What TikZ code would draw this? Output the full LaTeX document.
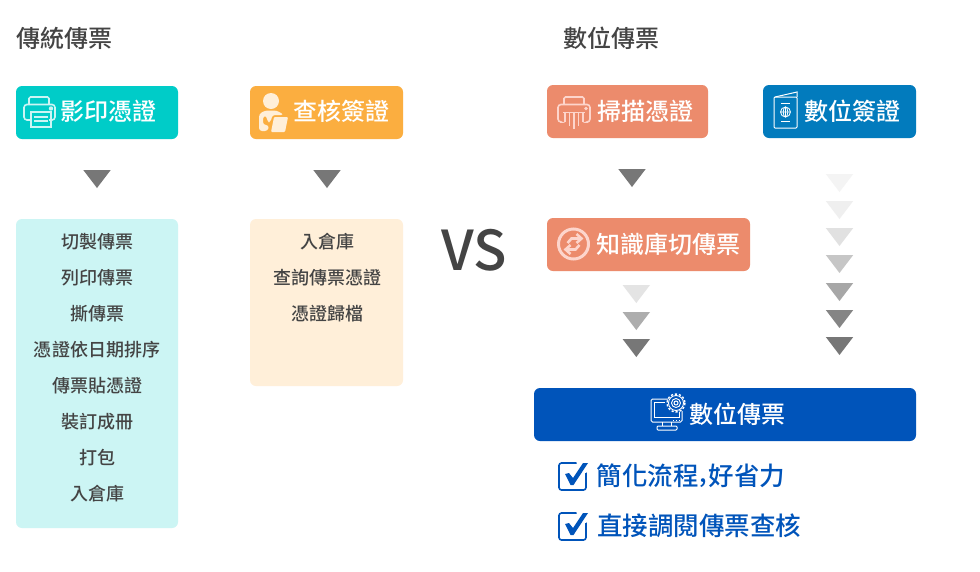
\documentclass[tikz,border=0pt]{standalone}
\usepackage{fontspec}
\setmainfont{Noto Sans CJK TC}
\newfontfamily\medf{Noto Sans CJK TC Medium}
\definecolor{teal1}{HTML}{00CCC8}
\definecolor{teal2}{HTML}{CCF5F4}
\definecolor{org1}{HTML}{FBAE40}
\definecolor{org2}{HTML}{FFEFD9}
\definecolor{sal1}{HTML}{EC8B6C}
\definecolor{sal2}{HTML}{FDD5CC}
\definecolor{blu1}{HTML}{027BBD}
\definecolor{blu2}{HTML}{0054BA}
\definecolor{ink}{HTML}{444444}
\definecolor{tri}{HTML}{777777}
\tikzset{
  x=1pt,y=-1pt,
  box/.style={rounded corners=6pt,anchor=north west,inner sep=0pt,outer sep=0pt},
  title/.style={font=\medf\fontsize{24}{24}\selectfont,text=ink,inner sep=0pt},
  label/.style={font=\medf\fontsize{24}{24}\selectfont,text=white,inner sep=0pt},
  item/.style={font=\medf\fontsize{18}{18}\selectfont,text=ink,inner sep=0pt},
  good/.style={font=\medf\fontsize{25.5}{26}\selectfont,text=blu2,inner sep=0pt,anchor=base}
}
\newcommand{\tridown}[3]{\fill[#3] (#1-13.7,#2) -- (#1+13.7,#2) -- (#1,#2+18) -- cycle;}
\newcommand{\checkbox}[2]{%
  \begin{scope}[shift={(#1,#2)}]
  \draw[draw=blu2,line width=1.6pt,rounded corners=2.5pt] (0,0) rectangle (27,27);
  \fill[white] (17,-3) -- (32,-3) -- (32,8) -- (20,12) -- cycle;
  \fill[blu2] (6,11) -- (10,10) -- (14,15) -- (24,0) -- (29,0) -- (14.5,22) -- (11.5,22) -- cycle;
  \end{scope}}
\begin{document}
\begin{tikzpicture}
\useasboundingbox (0,0) rectangle (980,571);
\fill[white] (0,0) rectangle (980,571);
% titles
\node[title] (t1) at (64.5,38.5) {傳統傳票};
\node[title] (t2) at (611,38.5) {數位傳票};
\node[font=\medf\fontsize{55}{55}\selectfont,text=ink,inner sep=0pt] (vs) at (474,250) {VS};
% boxes
\node[box,fill=teal1,minimum width=162pt,minimum height=53pt] (b1) at (16,86) {};
\node[box,fill=org1,minimum width=153pt,minimum height=53pt] (b2) at (250,86) {};
\node[box,fill=sal1,minimum width=161pt,minimum height=53pt] (b3) at (547,85) {};
\node[box,fill=blu1,minimum width=153pt,minimum height=53pt] (b4) at (763,85) {};
\node[box,fill=sal1,minimum width=203pt,minimum height=53pt] (b5) at (547,218) {};
\node[box,fill=blu2,minimum width=382pt,minimum height=53pt] (b6) at (534,388) {};
\node[box,fill=teal2,minimum width=162pt,minimum height=309pt] (p1) at (16,219) {};
\node[box,fill=org2,minimum width=153pt,minimum height=167pt] (p2) at (250,219) {};
% labels
\node[label] (l1) at (108,111.5) {影印憑證};
\node[label] (l2) at (341,111.5) {查核簽證};
\node[label] (l3) at (645.5,111) {掃描憑證};
\node[label] (l4) at (852,111) {數位簽證};
\node[label] (l5) at (668,244) {知識庫切傳票};
\node[label] (l6) at (737.5,414) {數位傳票};
% lists
\foreach \t [count=\i from 0] in {切製傳票,列印傳票,撕傳票,憑證依日期排序,傳票貼憑證,裝訂成冊,打包,入倉庫}
  \node[item] (a\i) at (97,241.5+36*\i) {\t};
\foreach \t [count=\i from 0] in {入倉庫,查詢傳票憑證,憑證歸檔}
  \node[item] (c\i) at (327,241.5+36*\i) {\t};
% triangles
\tridown{97}{170}{tri}
\tridown{327}{170}{tri}
\tridown{632}{169}{tri}
\tridown{636.3}{285}{tri!20}
\tridown{636.3}{312}{tri!60}
\tridown{636.3}{339}{tri}
\tridown{839.5}{174}{tri!8}
\tridown{839.5}{201}{tri!12}
\tridown{839.5}{228}{tri!22}
\tridown{839.5}{255}{tri!42}
\tridown{839.5}{283}{tri!65}
\tridown{839.5}{310}{tri!90}
\tridown{839.5}{337}{tri}
% checks
\checkbox{559}{463}
\checkbox{559}{513}
\node[good] (g1) at (691,485) {簡化流程\hspace{1pt}\raisebox{3pt}{,}\hspace{1pt}好省力};
\node[good] (g2) at (699,535) {直接調閱傳票查核};
% printer icon
\begin{scope}[shift={(24,96)}]
\draw[teal2,line width=1.6pt,rounded corners=1.5pt] (5,8) -- (5,1) -- (25,1) -- (25,8);
\draw[teal2,line width=1.6pt,rounded corners=3pt] (6,24) -- (0,24) -- (0,8.5) -- (31,8.5) -- (31,24) -- (25,24);
\fill[teal2] (27,12.5) circle (2.2);
\draw[teal2,line width=1.8pt] (7,16) rectangle (27,31);
\draw[teal2,line width=1.2pt] (10,21) -- (24,21) (10,25) -- (24,25);
\end{scope}
% person icon
\begin{scope}[shift={(259,91)}]
\fill[org2] (12,10) circle (8);
\fill[org2,rounded corners=3pt] (0,40) -- (0,23) -- (6,19.5) -- (18,19.5) -- (25,24) -- (13,24) -- (12,31) -- (8,31) -- (8,25) -- (4,25) -- (4,34) -- (10,34) -- (9,40) -- cycle;
\fill[org2,rounded corners=1pt] (15,26) -- (29,26) -- (26,41) -- (12,41) -- cycle;
\end{scope}
% shredder icon
\begin{scope}[shift={(558,96)}]
\draw[sal2,line width=1.6pt,rounded corners=1.5pt] (6,8) -- (6,1) -- (26,1) -- (26,8);
\draw[sal2,line width=1.6pt,rounded corners=3pt] (2,26) -- (0,26) -- (0,8.5) -- (32,8.5) -- (32,26) -- (30,26);
\fill[sal2] (28,12.5) circle (1.8);
\draw[sal2,line width=1.6pt] (5,16.5) -- (27,16.5);
\draw[sal2,line width=1.6pt] (7,17) -- (7,26) (11.5,17) -- (11.5,30) (16,17) -- (16,33) (20.5,17) -- (20.5,30) (25,17) -- (25,26);
\end{scope}
% passport icon
\begin{scope}[shift={(774,92)}]
\draw[white,line width=1pt,rounded corners=1pt] (0,5) rectangle (23,36);
\draw[white,line width=1pt] (1,5) -- (23,0) -- (23,5);
\draw[white,line width=.9pt] (7,11) -- (16,11) (7,29) -- (16,29);
\draw[white,line width=.8pt] (11.5,20) circle (5) (6.5,20) -- (16.5,20) (11.5,15) -- (11.5,25);
\draw[white,line width=.8pt] (11.5,20) ellipse (2.3 and 5);
\end{scope}
% exchange icon
\begin{scope}[shift={(573.5,244)}]
\draw[sal2,line width=3pt] (0,0) circle (15);
\draw[sal2,line width=2.6pt] (-6,-1) -- (-2,-5.5) -- (8,-5.5);
\draw[sal2,line width=2.6pt] (3,-10) -- (8,-5.5) -- (3,-1);
\draw[sal2,line width=2.6pt] (6,1) -- (2,5.5) -- (-8,5.5);
\draw[sal2,line width=2.6pt] (-3,10) -- (-8,5.5) -- (-3,1);
\end{scope}
% monitor and gear icon
\begin{scope}[shift={(650,393)}]
\draw[white,line width=1pt,rounded corners=1.5pt] (18,6) -- (1,6) -- (1,29) -- (32,29) -- (32,18);
\draw[white,line width=.8pt] (4,9) -- (15,9) (4,9) -- (4,24.5) -- (29,24.5) -- (29,19);
\draw[white,line width=1pt] (12,29) -- (12,33) (21,29) -- (21,33);
\draw[white,line width=1pt,rounded corners=1pt] (7,33) rectangle (27,37);
\draw[white,line width=1pt,dotted] (23,27) -- (31,27);
\draw[white,line width=1.4pt,dash pattern=on 2.2pt off 1.9pt] (26,10) circle (9);
\draw[white,line width=.9pt] (26,10) circle (7.5) (26,10) circle (4.5);
\draw[white,line width=1pt] (26,10) circle (2);
\end{scope}
\end{tikzpicture}
\end{document}
